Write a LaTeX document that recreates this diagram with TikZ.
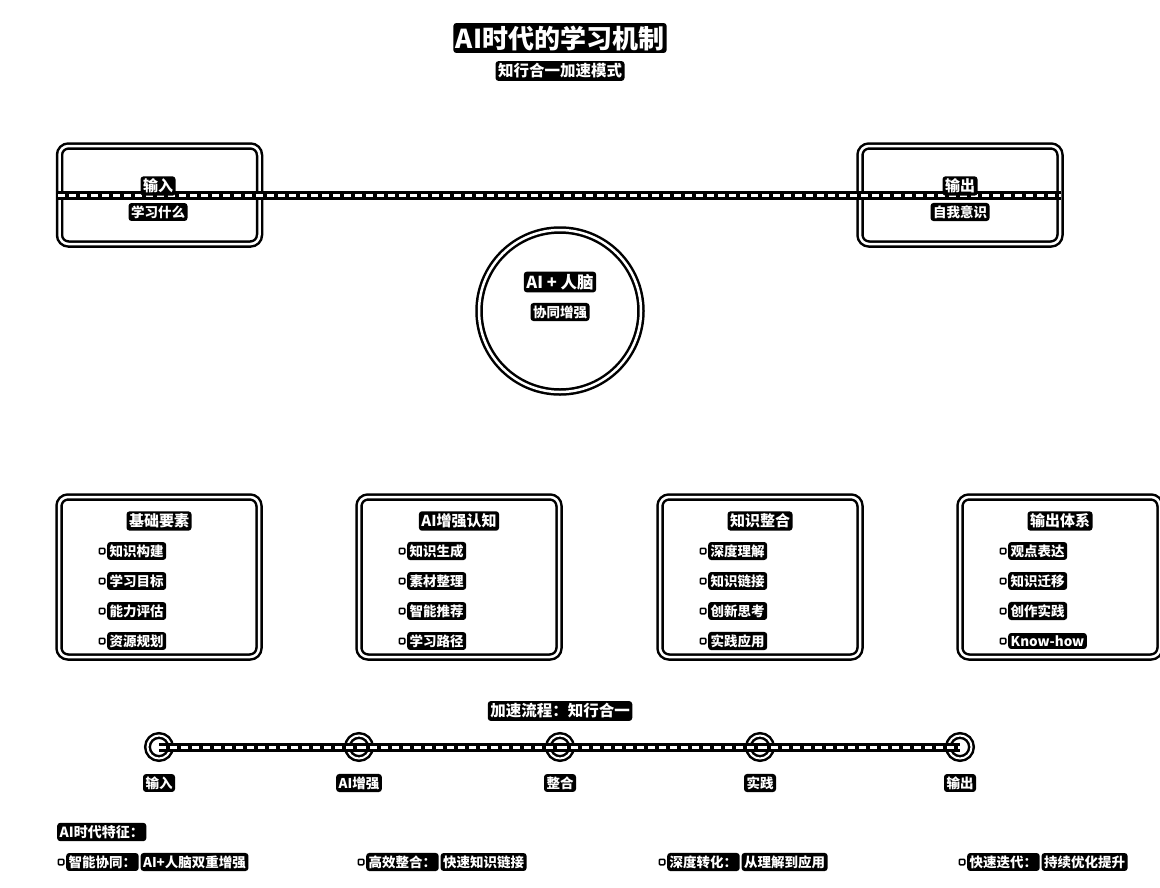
\documentclass[tikz,border=0pt]{standalone}
\usepackage{fontspec}
\setmainfont{Noto Sans CJK SC}
\usetikzlibrary{positioning}

\tikzset{
  box/.style={draw=black, line width=2.5pt, double=white, double distance=2.5pt,
    rounded corners=9pt, minimum width=200pt, minimum height=98pt, inner sep=0pt},
  lbl/.style={fill=black, text=white, rounded corners=3pt, inner sep=2.5pt},
  flow/.style={draw=black, line width=9pt,
    postaction={draw=white, line width=3pt, dash pattern=on 7pt off 4pt}},
  dot/.style={circle, draw=black, fill=white, line width=2.5pt, double=white,
    double distance=2pt, minimum size=23pt, inner sep=0pt},
  bul/.style={draw=black, fill=white, line width=1.5pt, minimum size=5.5pt,
    inner sep=0pt, rounded corners=1pt}
}

\begin{document}
\begin{tikzpicture}[x=1pt, y=-1pt, font=\fontsize{13.5}{16}\selectfont\bfseries]
  \useasboundingbox (0,0) rectangle (1160,887);
  \clip (0,0) rectangle (1160,887);

  % title
  \node[lbl, font=\fontsize{26}{30}\selectfont\bfseries] (title) at (560,38) {AI时代的学习机制};
  \node[lbl, font=\fontsize{15.5}{18}\selectfont\bfseries] (subtitle) at (560,71) {知行合一加速模式};

  % input / output
  \node[box] (inBox) at (159.5,195) {};
  \node[box] (outBox) at (960,195) {};
  \draw[flow] (inBox.west) -- (outBox.east);
  \node[lbl, font=\fontsize{15}{18}\selectfont\bfseries] (inT) at (158,186) {输入};
  \node[lbl] (inS) at (158,212) {学习什么};
  \node[lbl, font=\fontsize{15}{18}\selectfont\bfseries] (outT) at (960,186) {输出};
  \node[lbl] (outS) at (960,212) {自我意识};

  % core
  \node[circle, draw=black, line width=2.5pt, double=white, double distance=2.5pt,
    minimum size=162pt, inner sep=0pt] (core) at (560,311) {};
  \node[lbl, font=\fontsize{16.5}{19}\selectfont\bfseries] (coreT) at (560,282) {AI + 人脑};
  \node[lbl] (coreS) at (560,312) {协同增强};

  % four blocks
  \foreach \x/\name/\head/\ia/\ib/\ic/\id in {
      159/base/基础要素/知识构建/学习目标/能力评估/资源规划,
      459/aug/AI增强认知/知识生成/素材整理/智能推荐/学习路径,
      760/merge/知识整合/深度理解/知识链接/创新思考/实践应用,
      1060/outp/输出体系/观点表达/知识迁移/创作实践/Know-how}{
    \node[box, minimum height=160pt] (\name) at (\x,577) {};
    \node[lbl, font=\fontsize{15}{18}\selectfont\bfseries] (\name-t) at (\x,521) {\head};
    \foreach \entry [count=\i] in {\ia,\ib,\ic,\id}{
      \node[bul] (\name-b\i) at (\x-57,521+30*\i) {};
      \node[lbl, right=1.5pt of \name-b\i] (\name-i\i) {\entry};
    }
  }

  % timeline
  \node[lbl, font=\fontsize{15.5}{18}\selectfont\bfseries] (flowT) at (560,711) {加速流程：知行合一};
  \foreach \x/\step [count=\i] in {159/输入,359/AI增强,560/整合,760/实践,960/输出}{
    \node[dot] (s\i) at (\x,747) {};
    \node[lbl] (s\i-l) at (\x,783) {\step};
  }
  \foreach \i/\j in {1/2,2/3,3/4,4/5}
    \draw[flow] (s\i.center) -- (s\j.center);

  % features
  \node[lbl, font=\fontsize{14}{17}\selectfont\bfseries, anchor=west] (featT) at (57,832) {AI时代特征：};
  \foreach \x/\key/\val [count=\i] in {57/智能协同：/AI+人脑双重增强,
      357/高效整合：/快速知识链接, 658/深度转化：/从理解到应用,
      958/快速迭代：/持续优化提升}{
    \node[bul] (f\i-b) at (\x+4,862) {};
    \node[lbl, right=1.5pt of f\i-b] (f\i-k) {\key};
    \node[lbl, right=1.5pt of f\i-k] (f\i-v) {\val};
  }
\end{tikzpicture}
\end{document}
